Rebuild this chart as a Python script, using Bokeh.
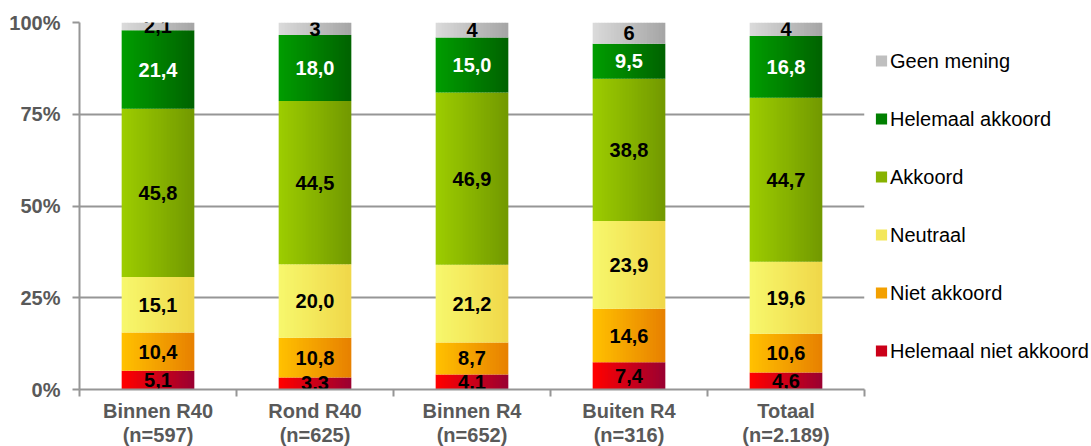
from bokeh.plotting import figure
from bokeh.models import (Range1d, FixedTicker, ColumnDataSource, Legend, LegendItem)
from bokeh.core.properties import value
from bokeh.embed import file_html
from bokeh.resources import INLINE

# ---------------- data ----------------
categories = ["Binnen R40\n(n=597)", "Rond R40\n(n=625)", "Binnen R4\n(n=652)",
              "Buiten R4\n(n=316)", "Totaal\n(n=2.189)"]
helemaal_niet_akkoord = [5.1, 3.3, 4.1, 7.4, 4.6]
niet_akkoord = [10.4, 10.8, 8.7, 14.6, 10.6]
neutraal = [15.1, 20.0, 21.2, 23.9, 19.6]
akkoord = [45.8, 44.5, 46.9, 38.8, 44.7]
helemaal_akkoord = [21.4, 18.0, 15.0, 9.5, 16.8]
geen_mening = [2.1, 3.4, 4.1, 5.8, 3.7]
geen_mening_labels = ["2,1", "3", "4", "6", "4"]
y_ticks = [0, 25, 50, 75, 100]
y_tick_labels = ["0%", "25%", "50%", "75%", "100%"]

series = [
    ("Helemaal niet akkoord", helemaal_niet_akkoord, ("#ff0000", "#9c0030"), "black"),
    ("Niet akkoord", niet_akkoord, ("#ffc000", "#e88200"), "black"),
    ("Neutraal", neutraal, ("#f7f76c", "#f0d84a"), "black"),
    ("Akkoord", akkoord, ("#9ccc00", "#739a00"), "black"),
    ("Helemaal akkoord", helemaal_akkoord, ("#009c00", "#006400"), "white"),
    ("Geen mening", geen_mening, ("#dadada", "#a6a6a6"), "black"),
]

FONT = value("Liberation Sans")
GREY = "#595959"
LINE = "#969696"

n = len(categories)
totals = [sum(s[1][i] for s in series) for i in range(n)]
centers = [i + 0.5 for i in range(n)]
bar_w = 0.46
N_STRIPS = 24


def hex2rgb(h):
    h = h.lstrip("#")
    return tuple(int(h[j:j + 2], 16) for j in (0, 2, 4))


def mix(c0, c1, t):
    a, b = hex2rgb(c0), hex2rgb(c1)
    return "#%02x%02x%02x" % tuple(int(round(a[j] + (b[j] - a[j]) * t)) for j in range(3))


p = figure(output_backend="svg", toolbar_location=None,
           x_range=Range1d(0, n), y_range=Range1d(0, 100),
           frame_width=785, frame_height=367,
           min_border_left=79, min_border_top=22, min_border_right=0, min_border_bottom=0)
p.outline_line_color = None
p.xgrid.grid_line_color = None
p.ygrid.ticker = FixedTicker(ticks=y_ticks)
p.ygrid.grid_line_color = LINE
p.ygrid.grid_line_width = 2

bottoms = [0.0] * n
legend_items = []
label_x, label_y, label_t, label_c = [], [], [], []
for name, vals, (c0, c1), tcol in series:
    xs, bs, ts, cols = [], [], [], []
    for i in range(n):
        b = bottoms[i] / totals[i] * 100
        t = (bottoms[i] + vals[i]) / totals[i] * 100
        for k in range(N_STRIPS):
            xs.append(centers[i] - bar_w / 2 + (k + 0.5) * bar_w / N_STRIPS)
            bs.append(b)
            ts.append(t)
            cols.append(mix(c0, c1, k / (N_STRIPS - 1)))
        label_x.append(centers[i])
        label_y.append((b + t) / 2)
        if name == "Geen mening":
            label_t.append(geen_mening_labels[i])
        else:
            label_t.append(("%.1f" % vals[i]).replace(".", ","))
        label_c.append(tcol)
        bottoms[i] += vals[i]
    src = ColumnDataSource(dict(x=xs, bottom=bs, top=ts, color=cols))
    r = p.vbar(x="x", bottom="bottom", top="top", width=bar_w / N_STRIPS * 1.15,
               fill_color="color", line_color=None, source=src)
    legend_items.append(LegendItem(label=name, renderers=[r], index=N_STRIPS // 2))

p.text(x=label_x, y=label_y, text=label_t, text_color=label_c,
       text_font=FONT, text_font_style="bold", text_font_size="20px",
       text_align="center", text_baseline="middle")

# axes
xa = p.xaxis[0]
xa.ticker = FixedTicker(ticks=centers, minor_ticks=list(range(n + 1)))
xa.major_label_overrides = {c: lab for c, lab in zip(centers, categories)}
xa.major_tick_out = 0
xa.major_tick_in = 0
xa.minor_tick_out = 7
xa.minor_tick_in = 0
xa.minor_tick_line_color = LINE
xa.minor_tick_line_width = 2
xa.axis_line_color = LINE
xa.axis_line_width = 2
xa.major_label_text_font = "Liberation Sans"
xa.major_label_text_font_style = "bold"
xa.major_label_text_font_size = "20px"
xa.major_label_text_line_height = 1.1
xa.major_label_text_color = GREY
xa.major_label_standoff = 3

ya = p.yaxis[0]
ya.ticker = FixedTicker(ticks=y_ticks)
ya.major_label_overrides = {t: lab for t, lab in zip(y_ticks, y_tick_labels)}
ya.major_tick_out = 7
ya.major_tick_in = 0
ya.major_tick_line_color = LINE
ya.major_tick_line_width = 2
ya.minor_tick_line_color = None
ya.axis_line_color = LINE
ya.axis_line_width = 2
ya.major_label_text_font = "Liberation Sans"
ya.major_label_text_font_style = "bold"
ya.major_label_text_font_size = "20px"
ya.major_label_text_color = GREY
ya.major_label_standoff = 12

legend = Legend(items=list(reversed(legend_items)), location="center_left",
                margin=10, padding=0, spacing=35, glyph_width=14, glyph_height=14,
                label_standoff=2, label_text_font="Liberation Sans",
                label_text_font_size="20px", label_text_color="black",
                border_line_color=None, background_fill_alpha=0)
p.add_layout(legend, "right")

open("out.html", "w").write(file_html(p, INLINE))
